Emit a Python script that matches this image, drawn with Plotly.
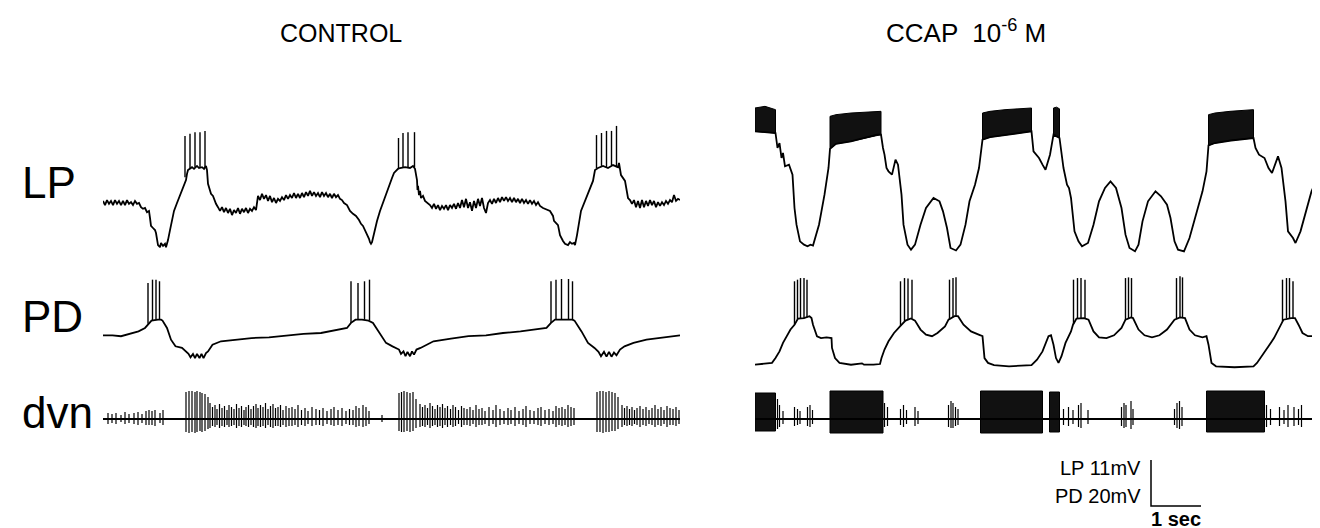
import plotly.graph_objects as go

# ------------------------------------------------------------------ data
# time in seconds, membrane potential in mV

# ---- CONTROL: LP intracellular
lp_ctrl_t = [
    0.00, 0.04, 0.08, 0.12, 0.16, 0.20, 0.24, 0.28, 0.32, 0.36, 0.40, 0.44, 0.48, 0.52, 0.56, 0.60, 0.64, 0.68, 0.72, 0.76,
    0.80, 0.84, 0.88, 0.92, 0.94, 0.96, 1.00, 1.04, 1.06, 1.08, 1.10, 1.14, 1.16, 1.20, 1.24, 1.26, 1.28, 1.30, 1.34, 1.38,
    1.42, 1.48, 1.54, 1.60, 1.66, 1.68, 1.70, 1.78, 1.82, 1.88, 1.92, 1.98, 2.02, 2.06, 2.08, 2.10, 2.12, 2.16, 2.20, 2.24,
    2.26, 2.30, 2.34, 2.38, 2.42, 2.46, 2.50, 2.54, 2.58, 2.62, 2.66, 2.70, 2.74, 2.78, 2.82, 2.86, 2.90, 2.94, 2.98, 3.02,
    3.06, 3.10, 3.14, 3.18, 3.22, 3.26, 3.30, 3.34, 3.38, 3.42, 3.46, 3.50, 3.54, 3.58, 3.62, 3.66, 3.70, 3.74, 3.78, 3.82,
    3.86, 3.90, 3.94, 3.98, 4.02, 4.06, 4.10, 4.14, 4.18, 4.22, 4.26, 4.30, 4.34, 4.38, 4.42, 4.46, 4.50, 4.54, 4.58, 4.62,
    4.66, 4.70, 4.74, 4.78, 4.82, 4.88, 4.94, 5.00, 5.06, 5.12, 5.16, 5.20, 5.24, 5.28, 5.32, 5.34, 5.36, 5.38, 5.42, 5.48,
    5.54, 5.60, 5.66, 5.72, 5.78, 5.82, 5.90, 5.94, 6.04, 6.14, 6.20, 6.24, 6.26, 6.28, 6.29, 6.30, 6.32, 6.34, 6.36, 6.40,
    6.44, 6.50, 6.54, 6.58, 6.62, 6.66, 6.70, 6.74, 6.78, 6.82, 6.86, 6.90, 6.94, 6.98, 7.02, 7.06, 7.10, 7.14, 7.18, 7.22,
    7.26, 7.30, 7.34, 7.38, 7.42, 7.46, 7.50, 7.54, 7.58, 7.62, 7.66, 7.70, 7.74, 7.78, 7.82, 7.86, 7.90, 7.94, 7.98, 8.02,
    8.06, 8.10, 8.14, 8.18, 8.22, 8.26, 8.30, 8.34, 8.38, 8.42, 8.46, 8.50, 8.54, 8.58, 8.62, 8.66, 8.70, 8.74, 8.80, 8.94,
    9.00, 9.02, 9.10, 9.12, 9.14, 9.20, 9.24, 9.30, 9.34, 9.38, 9.42, 9.44, 9.46, 9.48, 9.56, 9.70, 9.80, 9.84, 9.90, 10.00,
    10.10, 10.20, 10.30, 10.32, 10.34, 10.36, 10.44, 10.46, 10.50, 10.54, 10.58, 10.62, 10.66, 10.70, 10.74, 10.78, 10.82, 10.86, 10.90, 10.94,
    10.98, 11.02, 11.06, 11.10, 11.14, 11.18, 11.22, 11.26, 11.30, 11.34, 11.38, 11.42, 11.46, 11.50, 11.54]
lp_ctrl_v = [
    -50.7, -51.7, -50.5, -51.4, -50.7, -51.7, -50.5, -51.4, -50.7, -51.7, -50.7, -51.7, -50.5, -51.4, -51.0, -51.7, -50.7, -51.4, -51.2, -52.2,
    -52.6, -52.4, -53.4, -53.1, -54.8, -56.7, -57.2, -57.7, -58.4, -60.1, -61.3, -61.8, -60.8, -61.5, -61.0, -61.8, -61.0, -60.1, -57.7, -55.3,
    -53.1, -51.2, -49.5, -47.6, -45.7, -44.2, -43.3, -42.6, -43.0, -42.3, -42.8, -42.6, -43.0, -42.3, -43.3, -46.6, -47.6, -49.0, -49.5, -51.0,
    -51.4, -52.2, -53.1, -52.2, -53.4, -52.4, -53.6, -52.6, -54.1, -52.9, -53.6, -52.4, -53.8, -52.6, -53.4, -52.4, -53.6, -52.6, -53.1, -52.2,
    -52.9, -49.5, -50.5, -49.0, -50.2, -49.3, -50.7, -49.5, -51.0, -50.0, -51.2, -50.2, -50.7, -49.8, -50.5, -49.3, -50.2, -49.3, -50.0, -48.8,
    -50.0, -49.0, -50.0, -48.8, -49.8, -48.6, -49.5, -48.3, -49.5, -48.6, -49.5, -48.8, -49.8, -48.6, -49.5, -48.8, -49.8, -49.0, -50.0, -49.0,
    -49.8, -49.3, -50.2, -50.5, -51.2, -51.7, -53.1, -53.8, -54.3, -55.3, -56.2, -56.7, -57.7, -58.6, -59.8, -60.6, -61.0, -60.6, -58.2, -55.5,
    -53.1, -51.0, -49.0, -47.1, -45.2, -44.0, -43.0, -42.8, -42.6, -42.8, -42.3, -43.0, -44.2, -45.7, -48.1, -47.1, -49.3, -48.3, -50.0, -49.5,
    -50.7, -51.2, -51.7, -52.4, -51.4, -52.6, -51.7, -52.9, -51.9, -52.6, -51.7, -52.9, -51.7, -52.4, -51.4, -52.6, -51.2, -52.4, -50.5, -52.2,
    -50.2, -52.4, -51.0, -53.1, -50.7, -52.4, -50.2, -51.9, -50.0, -52.4, -53.6, -51.2, -50.5, -51.4, -50.2, -51.2, -50.0, -51.0, -49.8, -50.7,
    -49.8, -50.7, -50.0, -51.0, -50.0, -51.0, -50.2, -51.2, -50.2, -51.2, -50.5, -51.4, -50.5, -51.4, -50.7, -51.7, -51.0, -51.9, -52.4, -53.1,
    -54.3, -55.5, -56.5, -57.7, -58.9, -60.3, -61.0, -61.3, -60.6, -61.0, -60.8, -61.3, -60.3, -58.9, -53.1, -48.8, -45.9, -43.3, -42.8, -42.3,
    -42.8, -42.1, -42.6, -41.6, -42.8, -44.5, -45.9, -47.1, -50.0, -50.5, -51.4, -50.5, -52.2, -50.7, -52.4, -50.5, -52.2, -50.7, -51.9, -50.5,
    -51.7, -50.7, -52.2, -51.0, -51.9, -51.0, -51.7, -50.7, -51.4, -50.5, -51.0, -49.3, -50.7, -50.2, -50.5]
lp_ctrl_spk_t = [1.64, 1.74, 1.84, 1.94, 2.04, 5.91, 6.00, 6.10, 6.23, 9.87, 9.97, 10.07, 10.17, 10.27]
lp_ctrl_spk_base = [-45.0, -42.8, -42.6, -42.6, -42.8, -42.8, -42.6, -42.8, -42.6, -42.8, -42.3, -42.8, -42.1, -42.6]
lp_ctrl_spk_peak = [-35.1, -34.6, -34.2, -34.2, -33.9, -35.6, -34.4, -34.2, -34.2, -34.9, -34.4, -33.9, -33.9, -32.7]

# ---- CONTROL: PD intracellular
pd_ctrl_t = [
    0.00, 0.19, 0.36, 0.54, 0.71, 0.84, 0.89, 0.97, 1.10, 1.16, 1.19, 1.28, 1.36, 1.45, 1.58, 1.67, 1.71, 1.75, 1.80, 1.84,
    1.88, 1.93, 1.97, 2.01, 2.06, 2.10, 2.19, 2.36, 2.62, 2.97, 3.32, 3.66, 4.01, 4.36, 4.70, 4.88, 4.96, 5.05, 5.18, 5.31,
    5.40, 5.53, 5.66, 5.79, 5.92, 5.96, 6.01, 6.05, 6.09, 6.14, 6.18, 6.22, 6.27, 6.35, 6.61, 6.96, 7.31, 7.66, 8.00, 8.35,
    8.70, 8.87, 8.96, 9.04, 9.39, 9.43, 9.57, 9.70, 9.83, 9.91, 9.96, 10.02, 10.07, 10.12, 10.17, 10.22, 10.27, 10.34, 10.43, 10.61,
    10.87, 11.13, 11.48, 11.54]
pd_ctrl_v = [
    -54.5, -54.5, -54.9, -53.9, -52.8, -51.3, -49.9, -48.1, -47.7, -47.7, -48.1, -51.3, -56.4, -59.3, -60.0, -61.7, -62.6, -64.1, -62.6, -64.4,
    -62.6, -64.4, -62.6, -64.4, -62.2, -61.5, -58.6, -57.1, -56.4, -55.7, -55.4, -54.5, -53.9, -53.5, -52.0, -51.3, -49.1, -47.7, -47.7, -48.1,
    -49.1, -53.5, -57.8, -59.3, -60.7, -62.6, -61.5, -63.6, -61.7, -63.6, -61.5, -62.9, -60.7, -60.0, -57.1, -55.9, -54.9, -54.5, -53.5, -52.8,
    -52.0, -51.3, -49.1, -47.7, -47.7, -48.1, -52.8, -57.8, -60.0, -61.7, -63.6, -61.7, -63.8, -61.7, -63.8, -62.0, -63.2, -60.7, -59.3, -57.8,
    -56.4, -55.7, -54.5, -54.5]
pd_ctrl_spk_t = [0.90, 0.99, 1.06, 1.13, 4.96, 5.10, 5.23, 5.33, 8.96, 9.06, 9.17, 9.31, 9.39]
pd_ctrl_spk_base = [-49.5, -48.0, -47.7, -47.7, -49.1, -47.7, -47.7, -48.0, -49.1, -47.7, -47.7, -47.7, -47.9]
pd_ctrl_spk_peak = [-31.7, -30.3, -30.3, -31.0, -31.0, -31.7, -31.0, -30.3, -31.0, -30.3, -30.0, -30.0, -31.0]

# ---- CONTROL: dvn extracellular (unit amplitudes, a.u.)
dvn_ctrl_t = [
    0.10, 0.18, 0.26, 0.36, 0.44, 0.52, 0.62, 0.70, 0.78, 0.86, 0.92, 0.98, 1.04, 1.14, 1.20,
    1.66, 1.72, 1.78, 1.84, 1.88, 1.94, 1.98, 2.04, 2.10,
    2.14, 2.19, 2.24, 2.28, 2.33, 2.38, 2.43, 2.48, 2.52, 2.57, 2.62, 2.67, 2.72, 2.77, 2.82, 2.86, 2.91, 2.96, 3.01, 3.06,
    3.10, 3.15, 3.20, 3.25, 3.30, 3.35, 3.40, 3.45, 3.50, 3.55, 3.60, 3.66, 3.72, 3.78, 3.84, 3.90, 3.97, 4.04, 4.10, 4.18,
    4.26, 4.33, 4.40, 4.48, 4.56, 4.62, 4.70, 4.78, 4.86, 4.93, 5.00, 5.06, 5.12, 5.20, 5.26, 5.32,
    5.58,
    5.92, 5.97, 6.02, 6.08, 6.14, 6.20, 6.26,
    6.34, 6.39, 6.44, 6.49, 6.54, 6.59, 6.64, 6.69, 6.74, 6.79, 6.84, 6.89, 6.95, 7.00, 7.05, 7.11, 7.17, 7.22, 7.28, 7.34,
    7.40, 7.46, 7.52, 7.58, 7.64, 7.72, 7.80, 7.86, 7.94, 8.02, 8.10, 8.16, 8.24, 8.32, 8.40, 8.46, 8.54, 8.62, 8.70, 8.76,
    8.84, 8.92, 9.00, 9.06, 9.12, 9.18, 9.24, 9.30, 9.36, 9.42,
    9.88, 9.94, 10.00, 10.06, 10.12, 10.18, 10.24, 10.30,
    10.38, 10.43, 10.48, 10.53, 10.58, 10.63, 10.68, 10.74, 10.80, 10.86, 10.92, 10.98, 11.04, 11.10, 11.16, 11.22, 11.28,
    11.34, 11.40, 11.46, 11.52]
dvn_ctrl_up = [
    6, 5, 6, 4, 7, 5, 6, 7, 5, 8, 9, 8, 9, 6, 9,
    27, 28, 28, 27, 28, 27, 26, 25, 22,
    16, 12, 14, 10, 15, 11, 13, 9, 14, 12, 10, 15, 11, 13, 9, 12, 14, 10, 13, 15,
    11, 14, 12, 16, 10, 13, 15, 11, 12, 14, 9, 13, 11, 12, 10, 14, 9, 11, 8, 12,
    10, 9, 11, 8, 10, 12, 9, 11, 8, 10, 9, 13, 11, 14, 12, 8,
    4,
    26, 27, 28, 27, 26, 27, 20,
    15, 12, 14, 11, 16, 13, 10, 14, 12, 15, 11, 13, 10, 14, 12, 9, 13, 11, 10, 12,
    9, 14, 10, 11, 8, 12, 9, 14, 10, 8, 11, 9, 12, 8, 10, 13, 9, 8, 11, 12,
    9, 10, 8, 13, 11, 12, 10, 14, 12, 11,
    27, 28, 28, 27, 28, 27, 26, 22,
    14, 11, 13, 10, 12, 9, 11, 13, 10, 12, 9, 11, 14, 10, 12, 9, 13,
    11, 10, 12, 9]
dvn_ctrl_dn = [
    5, 4, 5, 3, 5, 4, 5, 6, 4, 6, 6, 6, 7, 4, 6,
    13, 14, 13, 14, 13, 12, 13, 12, 10,
    9, 7, 8, 6, 9, 7, 8, 6, 8, 7, 6, 9, 7, 8, 6, 7, 8, 6, 8, 9,
    7, 8, 7, 9, 6, 8, 9, 7, 7, 8, 6, 8, 7, 7, 6, 8, 6, 7, 5, 7,
    6, 6, 7, 5, 6, 7, 6, 7, 5, 6, 6, 8, 7, 8, 7, 5,
    3,
    12, 13, 13, 12, 13, 12, 9,
    8, 7, 8, 6, 9, 7, 6, 8, 7, 9, 6, 8, 6, 8, 7, 5, 8, 6, 6, 7,
    5, 8, 6, 6, 5, 7, 5, 8, 6, 5, 6, 5, 7, 5, 6, 8, 5, 5, 6, 7,
    5, 6, 5, 8, 6, 7, 6, 8, 7, 6,
    13, 13, 14, 13, 13, 12, 12, 10,
    8, 6, 7, 6, 7, 5, 6, 8, 6, 7, 5, 6, 8, 6, 7, 5, 8,
    6, 6, 7, 5]
dvn_ctrl_end = 11.54

# ---- CCAP 10^-6 M: LP intracellular
lp_ccap_t = [
    0.00, 0.20, 0.41, 0.45, 0.49, 0.53, 0.56, 0.60, 0.68, 0.75, 0.79, 0.83, 0.90, 0.98, 1.05, 1.11, 1.16, 1.28, 1.39, 1.47,
    1.50, 1.62, 1.92, 2.44, 2.52, 2.56, 2.59, 2.63, 2.67, 2.74, 2.81, 2.86, 2.93, 2.97, 3.05, 3.12, 3.20, 3.31, 3.42, 3.57,
    3.69, 3.76, 3.84, 3.91, 4.02, 4.11, 4.21, 4.29, 4.40, 4.48, 4.54, 4.55, 4.70, 5.08, 5.53, 5.57, 5.68, 5.75, 5.81, 5.90,
    5.97, 6.09, 6.17, 6.24, 6.28, 6.32, 6.39, 6.47, 6.54, 6.66, 6.77, 6.88, 7.00, 7.11, 7.22, 7.33, 7.41, 7.49, 7.60, 7.67,
    7.75, 7.86, 8.01, 8.12, 8.24, 8.31, 8.39, 8.46, 8.58, 8.69, 8.80, 8.95, 9.03, 9.07, 9.20, 9.52, 9.97, 10.01, 10.08, 10.19,
    10.27, 10.34, 10.46, 10.53, 10.61, 10.66, 10.76, 10.81, 10.91, 11.02, 11.13, 11.25, 11.36, 11.40, 11.46]
lp_ccap_v = [
    -34.0, -34.2, -34.4, -38.0, -36.8, -40.4, -39.2, -42.4, -42.0, -44.4, -52.4, -56.4, -60.4, -61.2, -61.6, -61.2, -61.4, -56.4, -49.2, -42.8,
    -38.2, -37.0, -36.4, -34.8, -34.8, -38.0, -39.6, -42.8, -43.6, -44.4, -40.8, -42.0, -49.2, -56.4, -61.2, -62.4, -61.2, -56.4, -52.4, -50.0,
    -50.8, -53.2, -57.2, -62.0, -62.6, -61.2, -56.4, -50.8, -46.8, -42.8, -36.4, -36.0, -35.4, -34.8, -34.0, -38.8, -40.4, -42.0, -43.2, -39.6,
    -34.8, -35.6, -42.8, -46.8, -47.6, -50.0, -58.0, -60.4, -61.6, -60.8, -56.4, -50.8, -47.6, -46.0, -47.6, -52.4, -58.8, -62.0, -62.8, -61.2,
    -55.6, -50.8, -48.4, -49.6, -51.6, -54.8, -60.4, -62.4, -62.8, -59.6, -54.8, -48.4, -43.6, -37.4, -36.8, -36.2, -35.6, -38.0, -39.6, -40.4,
    -42.8, -44.0, -40.0, -42.8, -50.8, -58.0, -59.6, -60.8, -58.0, -53.2, -48.4, -45.2, -38.0, -38.0, -37.6]
# dense LP bursts: envelope of spike peaks (top) and troughs (bottom)
lp_ccap_burst_t = [[0.00, 0.20, 0.41], [1.50, 1.62, 1.92, 2.52], [4.55, 4.70, 5.00, 5.53],
                   [5.97, 6.03, 6.09], [9.07, 9.20, 9.50, 9.97], [11.40, 11.46]]
lp_ccap_burst_top = [[-28.4, -28.0, -28.8], [-30.4, -30.0, -29.6, -29.2], [-29.6, -29.2, -28.8, -28.4],
                     [-28.4, -28.2, -28.6], [-30.0, -29.6, -29.2, -28.8], [-30.4, -30.4]]
lp_ccap_burst_bot = [[-34.0, -34.2, -34.4], [-38.2, -37.0, -36.4, -34.8], [-36.0, -35.4, -35.0, -34.0],
                     [-34.8, -35.0, -35.6], [-37.4, -36.8, -36.2, -35.6], [-38.0, -38.0]]

# ---- CCAP 10^-6 M: PD intracellular
pd_ccap_t = [
    0.00, 0.11, 0.34, 0.41, 0.49, 0.56, 0.64, 0.71, 0.79, 0.86, 0.98, 1.09, 1.13, 1.16, 1.24, 1.32, 1.43, 1.53, 1.54, 1.60,
    1.69, 1.92, 2.14, 2.18, 2.37, 2.50, 2.53, 2.59, 2.67, 2.78, 2.90, 3.01, 3.12, 3.20, 3.31, 3.42, 3.54, 3.65, 3.80, 3.87,
    3.99, 4.06, 4.17, 4.32, 4.51, 4.55, 4.59, 4.66, 4.78, 5.08, 5.53, 5.64, 5.75, 5.87, 5.92, 5.97, 6.02, 6.07, 6.13, 6.21,
    6.32, 6.36, 6.43, 6.58, 6.67, 6.77, 6.88, 7.03, 7.18, 7.33, 7.41, 7.52, 7.56, 7.67, 7.79, 7.94, 8.09, 8.24, 8.39, 8.50,
    8.60, 8.69, 8.80, 8.95, 9.03, 9.07, 9.13, 9.22, 9.59, 9.97, 10.04, 10.16, 10.27, 10.38, 10.49, 10.57, 10.72, 10.80, 10.87, 10.95,
    11.06, 11.17, 11.28, 11.32, 11.40, 11.46]
pd_ccap_v = [
    -67.3, -67.0, -66.5, -64.4, -61.5, -57.8, -54.9, -52.0, -49.9, -47.2, -47.0, -46.2, -47.0, -49.9, -54.9, -55.7, -55.4, -55.7, -60.0, -64.4,
    -66.5, -67.3, -66.7, -67.3, -67.3, -67.0, -64.4, -60.7, -57.1, -53.5, -50.6, -48.1, -47.2, -48.1, -52.0, -54.2, -54.9, -53.5, -50.6, -47.7,
    -46.2, -46.2, -49.9, -52.8, -54.5, -54.9, -64.4, -66.5, -67.5, -68.0, -67.5, -65.1, -61.5, -54.9, -54.5, -58.6, -64.4, -66.5, -63.6, -57.8,
    -52.8, -49.9, -47.2, -47.0, -47.7, -52.8, -55.4, -55.7, -54.5, -51.3, -47.7, -46.7, -47.0, -52.0, -54.5, -55.4, -54.5, -52.0, -47.7, -46.7,
    -47.0, -52.0, -54.5, -55.4, -54.9, -58.6, -66.5, -68.0, -68.4, -68.0, -66.5, -62.9, -59.3, -55.7, -51.3, -47.7, -47.0, -47.0, -49.9, -53.5,
    -54.9, -54.9, -53.5, -54.9, -58.6, -60.0]
pd_ccap_spk_t = [0.79, 0.85, 0.91, 0.98, 1.04, 2.91, 2.99, 3.06, 3.14, 3.89, 3.96, 4.02, 6.37, 6.45, 6.52, 6.60,
                 7.41, 7.47, 7.53, 8.43, 8.50, 8.55, 10.55, 10.63, 10.69, 10.76]
pd_ccap_spk_base = [-49.9, -47.5, -47.2, -47.0, -46.8, -50.3, -48.4, -47.5, -47.2, -47.5, -46.5, -46.2, -49.5, -47.2, -47.0, -47.0,
                    -47.7, -47.0, -46.7, -47.2, -46.7, -46.8, -48.5, -47.2, -47.0, -47.0]
pd_ccap_spk_peak = [-31.0, -30.3, -29.6, -29.6, -30.3, -31.0, -29.6, -29.8, -30.3, -30.3, -29.6, -29.3, -30.3, -29.6, -29.6, -30.3,
                    -29.6, -29.3, -29.6, -29.6, -28.8, -29.3, -30.3, -29.6, -29.6, -31.0]

# ---- CCAP 10^-6 M: dvn extracellular
dvn_ccap_block_t0 = [0.00, 1.50, 4.51, 5.89, 9.03, 11.25]
dvn_ccap_block_t1 = [0.41, 2.56, 5.75, 6.09, 10.19, 11.46]
dvn_ccap_block_top = [26, 28, 28, 27, 28, 27]
dvn_ccap_block_bot = [-12, -14, -14, -13, -13, -13]
dvn_ccap_t = [0.45, 0.49, 0.56, 0.79, 0.85, 0.90, 1.05, 1.10, 1.15, 2.59, 2.65, 2.91, 2.97, 3.03, 3.20, 3.26,
              3.87, 3.92, 3.96, 4.01, 4.06, 6.17, 6.27, 6.36, 6.47, 6.52, 6.66, 7.33, 7.38, 7.42, 7.52, 7.56,
              8.39, 8.44, 8.49, 8.54, 10.23, 10.31, 10.49, 10.58, 10.66, 10.78, 10.87, 10.93]
dvn_ccap_up = [20, 14, 8, 12, 10, 8, 12, 14, 9, 16, 12, 10, 14, 9, 12, 8,
               14, 18, 16, 12, 10, 10, 12, 9, 14, 16, 9, 12, 16, 14, 18, 10,
               10, 16, 18, 12, 14, 10, 12, 9, 14, 12, 10, 14]
dvn_ccap_dn = [10, 8, 5, 7, 6, 5, 7, 8, 5, 8, 7, 6, 8, 5, 7, 5,
               8, 9, 9, 7, 6, 6, 7, 5, 8, 9, 5, 7, 9, 8, 10, 6,
               6, 9, 10, 7, 8, 6, 7, 5, 8, 7, 6, 8]
dvn_ccap_end = 11.46

# ---- calibration bar
scale_time_s = 1.0
scale_lp_mv = 11
scale_pd_mv = 20

# ------------------------------------------------------------------ figure
W, H = 1320, 528
FONT = "Liberation Sans, Arial, Helvetica, sans-serif"
INK = "black"


def spikes(ts, lo, hi):
    xs, ys = [], []
    for t, a, b in zip(ts, lo, hi):
        xs += [t, t, None]
        ys += [a, b, None]
    return xs, ys


def line(x, y, xa, ya, w=1.8):
    return go.Scatter(x=x, y=y, xaxis=xa, yaxis=ya, mode="lines",
                      line=dict(color=INK, width=w), hoverinfo="skip", showlegend=False)


def block(ts, top, bot, xa, ya):
    xs = list(ts) + list(ts)[::-1] + [ts[0]]
    ys = list(top) + list(bot)[::-1] + [top[0]]
    return go.Scatter(x=xs, y=ys, xaxis=xa, yaxis=ya, mode="lines", fill="toself",
                      fillcolor="#111111", line=dict(color=INK, width=1),
                      hoverinfo="skip", showlegend=False)


fig = go.Figure()

# CONTROL column (x / y LP, y2 PD, y3 dvn)
fig.add_trace(line(lp_ctrl_t, lp_ctrl_v, "x", "y"))
sx, sy = spikes(lp_ctrl_spk_t, lp_ctrl_spk_base, lp_ctrl_spk_peak)
fig.add_trace(line(sx, sy, "x", "y", 1.4))
fig.add_trace(line(pd_ctrl_t, pd_ctrl_v, "x", "y2"))
sx, sy = spikes(pd_ctrl_spk_t, pd_ctrl_spk_base, pd_ctrl_spk_peak)
fig.add_trace(line(sx, sy, "x", "y2", 1.4))
fig.add_trace(line([0, dvn_ctrl_end], [0, 0], "x", "y3", 2.2))
sx, sy = spikes(dvn_ctrl_t, [-d for d in dvn_ctrl_dn], dvn_ctrl_up)
fig.add_trace(line(sx, sy, "x", "y3", 1.2))

# CCAP column (x2)
for bt, btop, bbot in zip(lp_ccap_burst_t, lp_ccap_burst_top, lp_ccap_burst_bot):
    fig.add_trace(block(bt, btop, bbot, "x2", "y"))
fig.add_trace(line(lp_ccap_t, lp_ccap_v, "x2", "y"))
fig.add_trace(line(pd_ccap_t, pd_ccap_v, "x2", "y2"))
sx, sy = spikes(pd_ccap_spk_t, pd_ccap_spk_base, pd_ccap_spk_peak)
fig.add_trace(line(sx, sy, "x2", "y2", 1.4))
for t0, t1, tp, bt in zip(dvn_ccap_block_t0, dvn_ccap_block_t1, dvn_ccap_block_top, dvn_ccap_block_bot):
    fig.add_trace(block([t0, t1], [tp, tp], [bt, bt], "x2", "y3"))
fig.add_trace(line([0, dvn_ccap_end], [0, 0], "x2", "y3", 2.2))
sx, sy = spikes(dvn_ccap_t, [-d for d in dvn_ccap_dn], dvn_ccap_up)
fig.add_trace(line(sx, sy, "x2", "y3", 1.2))

# calibration bar (LP mV scale, on y4)
bar_t0 = 7.92
fig.add_trace(line([bar_t0, bar_t0, bar_t0 + scale_time_s], [scale_lp_mv, 0, 0], "x2", "y4", 1.5))


def ydom(top_px, bot_px):
    return [1 - bot_px / H, 1 - top_px / H]


hidden = dict(visible=False, fixedrange=True)
fig.update_layout(
    width=W, height=H, autosize=False,
    margin=dict(l=0, r=0, t=0, b=0, pad=0),
    paper_bgcolor="white", plot_bgcolor="white",
    xaxis=dict(hidden, domain=[95 / W, 672 / W], range=[0, 11.54], anchor="y"),
    xaxis2=dict(hidden, domain=[747 / W, 1.0], range=[0, 11.46], anchor="y"),
    yaxis=dict(hidden, domain=ydom(90, 250), range=[-64.4, -26.0], anchor="x"),
    yaxis2=dict(hidden, domain=ydom(255, 365), range=[-70.9, -23.05], anchor="x"),
    yaxis3=dict(hidden, domain=ydom(375, 445), range=[-34, 36], anchor="x"),
    yaxis4=dict(hidden, domain=ydom(440, 528), range=[-7.18, 13.88], anchor="x2"),
)

ann = []
ann.append(dict(text="CONTROL", x=333 / W, y=1 - 25 / H, xref="paper", yref="paper",
                showarrow=False, xanchor="center", yanchor="middle",
                font=dict(family=FONT, size=25, color=INK)))
ann.append(dict(text="CCAP  10<sup>-6</sup> M", x=958 / W, y=1 - 23 / H, xref="paper", yref="paper",
                showarrow=False, xanchor="center", yanchor="middle",
                font=dict(family=FONT, size=26, color=INK)))
for txt, yc in [("LP", 174), ("PD", 308), ("dvn", 404)]:
    ann.append(dict(text=txt, x=12 / W, y=1 - yc / H, xref="paper", yref="paper",
                    showarrow=False, xanchor="left", yanchor="middle",
                    font=dict(family=FONT, size=44, color=INK)))
ann.append(dict(text=f"LP {scale_lp_mv}mV", x=bar_t0, y=9.0, xref="x2", yref="y4",
                showarrow=False, xanchor="right", yanchor="middle", xshift=-8,
                font=dict(family=FONT, size=20, color=INK)))
ann.append(dict(text=f"PD {scale_pd_mv}mV", x=bar_t0, y=2.3, xref="x2", yref="y4",
                showarrow=False, xanchor="right", yanchor="middle", xshift=-8,
                font=dict(family=FONT, size=20, color=INK)))
ann.append(dict(text=f"{scale_time_s:g} sec", x=bar_t0 + scale_time_s / 2, y=-3.1, xref="x2", yref="y4",
                showarrow=False, xanchor="center", yanchor="middle",
                font=dict(family=FONT, size=20, color=INK, weight="bold")))
fig.update_layout(annotations=ann)

fig.write_html("out.html")
